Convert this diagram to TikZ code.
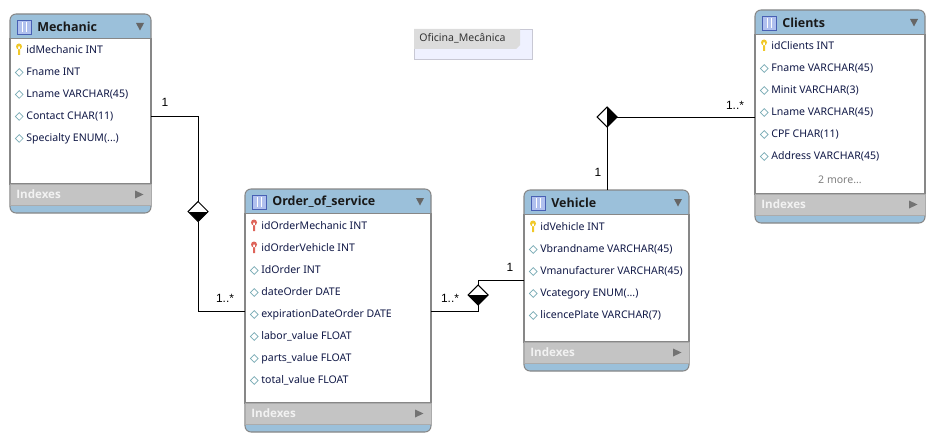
\documentclass[tikz,border=0pt]{standalone}
\usepackage{fontspec}
\setmainfont{Noto Sans}
\newfontfamily\labelfont{Liberation Sans}
\newfontfamily\headfont{Open Sans}
\usetikzlibrary{positioning, shapes.geometric}
\definecolor{headblue}{RGB}{155,192,218}
\definecolor{indexgray}{RGB}{196,196,196}
\definecolor{edgegray}{RGB}{135,135,135}
\definecolor{rowink}{RGB}{16,24,70}
\definecolor{marktint}{RGB}{120,170,180}
\definecolor{keyyellow}{RGB}{240,200,40}
\definecolor{keyred}{RGB}{222,100,90}
\definecolor{iconblue}{RGB}{176,192,238}
\definecolor{iconedge}{RGB}{72,96,180}
\definecolor{notefill}{RGB}{239,241,255}
\definecolor{noteedge}{RGB}{200,200,212}
\definecolor{notetab}{RGB}{220,220,220}
\def\pxu{0.02cm}
\tikzset{
  tablebox/.style = {rectangle, rounded corners = 6 * \pxu, draw = edgegray, fill = headblue, line width = 0.6pt, inner sep = 0, outer sep = 0},
  bodybox/.style = {rectangle, draw = edgegray, fill = white, line width = 0.6pt, inner sep = 0, outer sep = 0},
  indexbox/.style = {rectangle, draw = edgegray!70, fill = indexgray, line width = 0.4pt, inner sep = 0, outer sep = 0},
  titletext/.style = {anchor = west, inner sep = 0, font = \fontsize{7.1}{8}\headfont\bfseries, text = black!90},
  rowtext/.style = {anchor = west, inner sep = 0, text height = 4.6pt, text depth = 1.2pt, font = \fontsize{6}{7}\selectfont, text = rowink},
  indextext/.style = {anchor = west, inner sep = 0, font = \fontsize{6.6}{8}\headfont\bfseries, text = white!95!black},
  attrmark/.style = {diamond, draw = marktint, fill = white, line width = 0.4pt, inner sep = 0, minimum width = 8 * \pxu, minimum height = 8 * \pxu},
  relmark/.style = {diamond, draw = black, fill = white, line width = 0.6pt, inner sep = 0, outer sep = 0, minimum width = 20 * \pxu, minimum height = 20 * \pxu},
  lowerblack/.style = {path picture = {\fill [black] (path picture bounding box.west) rectangle (path picture bounding box.south east);}},
  rightblack/.style = {path picture = {\fill [black] (path picture bounding box.north) rectangle (path picture bounding box.south east);}},
  relline/.style = {draw = black, line width = 0.55pt},
  rellabel/.style = {inner sep = 0, font = \fontsize{6.8}{8}\labelfont, text = black}
}
\newcommand{\erdtable}[6]{
  \node [tablebox, anchor = north west, minimum width = #4 * \pxu, minimum height = #5 * \pxu] (#1) at (#2, #3) {};
  \node [bodybox, anchor = north, minimum width = #4 * \pxu, minimum height = (#5 - 53.5) * \pxu] (#1Body) at ([shift = {(0, 24.5)}] #1.north) {};
  \node [indexbox, anchor = north, minimum width = #4 * \pxu, minimum height = 21 * \pxu] (#1Index) at (#1Body.south) {};
  \node [titletext] (#1Title) at ([shift = {(27, 13)}] #1.north west) {#6};
  \node [indextext] (#1IndexText) at ([xshift = 6 * \pxu] #1Index.west) {Indexes};
  \filldraw [draw = iconedge, fill = iconblue, line width = 0.5pt] ([shift = {(7, 6)}] #1.north west) rectangle ++(14, 14);
  \draw [white, line width = 0.4pt] ([shift = {(12, 8)}] #1.north west) -- ++(0, 10);
  \draw [white, line width = 0.4pt] ([shift = {(16, 8)}] #1.north west) -- ++(0, 10);
  \fill [black!60] ([shift = {(-15, 9)}] #1.north east) -- ++(8, 0) -- ++(-4, 7.5) -- cycle;
  \fill [black!55] ([shift = {(-16, -4)}] #1Index.east) -- ++(8.5, 4) -- ++(-8.5, 4) -- cycle;
}
\newcommand{\attrrow}[4]{
  \node [rowtext] (#2) at ([shift = {(16, #3 + 1.5)}] #1.north west) {#4};
  \node [attrmark, left = 2.5 * \pxu of #2] (#2Mark) {};
}
\newcommand{\keyrow}[5]{
  \node [rowtext] (#2) at ([shift = {(16, #3 + 1.5)}] #1.north west) {#4};
  \fill [#5] ([shift = {(-7, -4)}] #2.west) circle (3) ([shift = {(-8, -4)}] #2.west) rectangle ++(2, 8.5);
}
\begin{document}
\begin{tikzpicture}[x = \pxu, y = -\pxu]
  \useasboundingbox (0, 0) rectangle (935, 442);

  \erdtable{mechanic}{10}{14}{141}{199}{Mechanic}
  \keyrow{mechanic}{mechanicId}{35}{idMechanic INT}{keyyellow}
  \attrrow{mechanic}{mechanicFname}{57}{Fname INT}
  \attrrow{mechanic}{mechanicLname}{79}{Lname VARCHAR(45)}
  \attrrow{mechanic}{mechanicContact}{101}{Contact CHAR(11)}
  \attrrow{mechanic}{mechanicSpecialty}{123}{Specialty ENUM(...)}

  \erdtable{order}{245}{189}{186}{243}{Order\_of\_service}
  \keyrow{order}{orderMechanic}{36}{idOrderMechanic INT}{keyred}
  \keyrow{order}{orderVehicle}{58}{idOrderVehicle INT}{keyred}
  \attrrow{order}{orderId}{80}{IdOrder INT}
  \attrrow{order}{orderDate}{102}{dateOrder DATE}
  \attrrow{order}{orderExpiration}{124}{expirationDateOrder DATE}
  \attrrow{order}{orderLabor}{146}{labor\_value FLOAT}
  \attrrow{order}{orderParts}{168}{parts\_value FLOAT}
  \attrrow{order}{orderTotal}{190}{total\_value FLOAT}

  \erdtable{vehicle}{524}{190}{165}{181}{Vehicle}
  \keyrow{vehicle}{vehicleId}{36}{idVehicle INT}{keyyellow}
  \attrrow{vehicle}{vehicleBrand}{58}{Vbrandname VARCHAR(45)}
  \attrrow{vehicle}{vehicleMaker}{80}{Vmanufacturer VARCHAR(45)}
  \attrrow{vehicle}{vehicleCategory}{102}{Vcategory ENUM(...)}
  \attrrow{vehicle}{vehiclePlate}{124}{licencePlate VARCHAR(7)}

  \erdtable{clients}{755}{10}{170}{213}{Clients}
  \keyrow{clients}{clientsId}{35}{idClients INT}{keyyellow}
  \attrrow{clients}{clientsFname}{57}{Fname VARCHAR(45)}
  \attrrow{clients}{clientsMinit}{79}{Minit VARCHAR(3)}
  \attrrow{clients}{clientsLname}{101}{Lname VARCHAR(45)}
  \attrrow{clients}{clientsCpf}{123}{CPF CHAR(11)}
  \attrrow{clients}{clientsAddress}{145}{Address VARCHAR(45)}
  \node [rowtext, anchor = center, text = black!50] (clientsMore) at ([shift = {(85, 171)}] clients.north west) {2 more...};

  \node [rectangle, draw = noteedge, fill = notefill, line width = 0.5pt, anchor = north west, inner sep = 0, outer sep = 0, minimum width = 118 * \pxu, minimum height = 30 * \pxu] (note) at (414, 29) {};
  \fill [notetab] (note.north west) -- ++(106, 0) -- ++(0, 16) -- ++(-4, 4) -- ++(-102, 0) -- cycle;
  \node [rowtext, text = black!80] (noteTitle) at ([shift = {(5, 10)}] note.north west) {Oficina\_Mecânica};

  \node [relmark, lowerblack] (relMechanic) at (198, 211.5) {};
  \node [relmark, lowerblack] (relVehicle) at (478, 295) {};
  \node [relmark, rightblack] (relClients) at (607, 117) {};

  \coordinate (orderLeft) at ([shift = {(0, 122)}] order.north west);
  \coordinate (orderRight) at ([shift = {(0, 122)}] order.north east);
  \coordinate (vehicleLeft) at ([shift = {(0, 90)}] vehicle.north west);
  \coordinate (clientsLeft) at ([shift = {(0, 107)}] clients.north west);

  \draw [relline] (mechanic.east |- mechanicContact) -| (relMechanic.north);
  \draw [relline] (relMechanic.south) |- (orderLeft);
  \draw [relline] (orderRight) -| (relVehicle.south);
  \draw [relline] (relVehicle.north) |- (vehicleLeft);
  \draw [relline] (vehicle.north -| relClients.south) -- (relClients.south);
  \draw [relline] (relClients.east) -- (clientsLeft);

  \node [rellabel] (labelMechanicOne) at (165, 102) {1};
  \node [rellabel] (labelOrderLeft) at (225, 298) {1..*};
  \node [rellabel] (labelOrderRight) at (450, 298) {1..*};
  \node [rellabel] (labelVehicleLeft) at (510, 267) {1};
  \node [rellabel] (labelVehicleTop) at (598, 172) {1};
  \node [rellabel] (labelClients) at (735, 105) {1..*};
\end{tikzpicture}
\end{document}
